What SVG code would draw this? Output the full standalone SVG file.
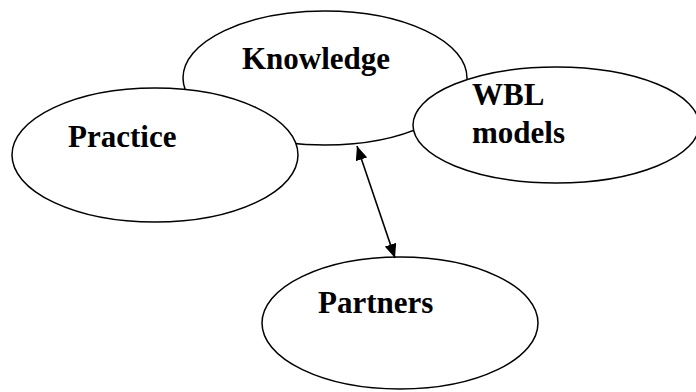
<svg xmlns="http://www.w3.org/2000/svg" width="696" height="392" viewBox="0 0 696 392">
<style>
.node ellipse{fill:#fff;stroke:#000;stroke-width:1.5}
.node text{font-family:"Liberation Serif","Times New Roman",serif;font-weight:bold;font-size:31px;fill:#000}
.conn line{stroke:#000;stroke-width:1.6}
</style>
<defs>
<marker id="ah" viewBox="0 0 14 12" refX="14" refY="6" markerWidth="14" markerHeight="12" markerUnits="userSpaceOnUse" orient="auto-start-reverse">
<path d="M0,0 L14,6 L0,12 Z" fill="#000"/>
</marker>
</defs>
<rect width="696" height="392" fill="#fff"/>
<g id="knowledge" class="node">
<ellipse cx="325" cy="78" rx="142" ry="67"/>
<text x="242" y="69">Knowledge</text>
</g>
<g id="practice" class="node">
<ellipse cx="155" cy="155" rx="143" ry="67"/>
<text x="68" y="147">Practice</text>
</g>
<g id="wbl" class="node">
<ellipse cx="556" cy="125" rx="143" ry="58"/>
<text x="472" y="105">WBL</text>
<text x="472" y="143">models</text>
</g>
<g id="partners" class="node">
<ellipse cx="400" cy="323" rx="138" ry="66"/>
<text x="318" y="313">Partners</text>
</g>
<g id="connectors" class="conn">
<line x1="357" y1="146" x2="395" y2="258" marker-start="url(#ah)" marker-end="url(#ah)"/>
</g>
</svg>
